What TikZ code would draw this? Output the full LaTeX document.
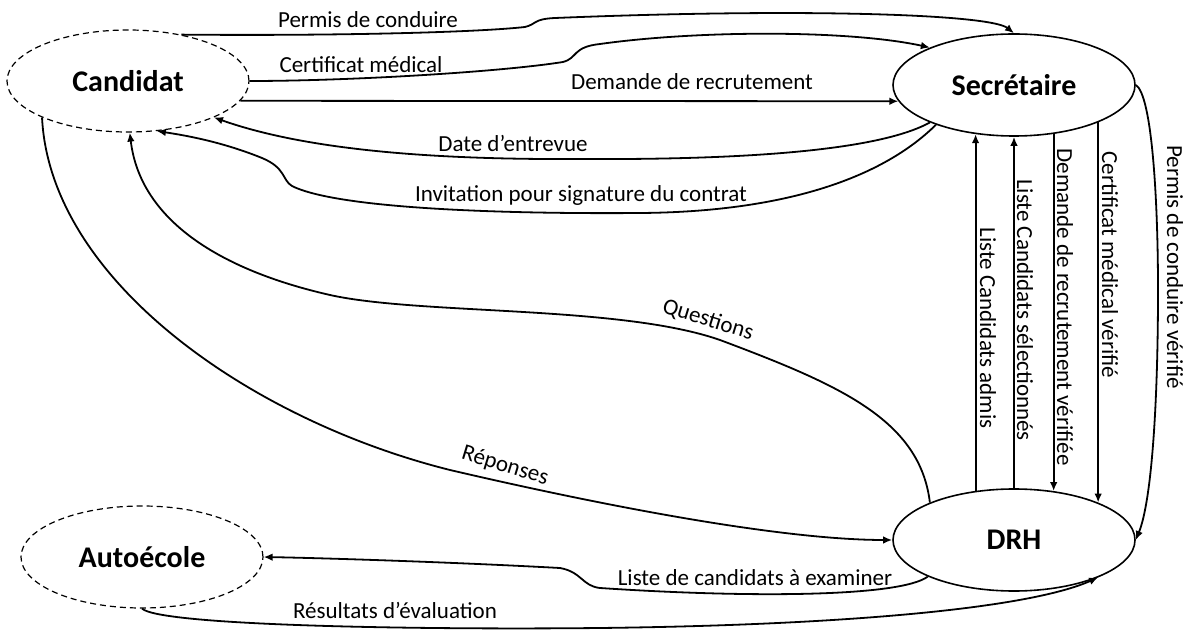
\documentclass[tikz,border=0pt]{standalone}
\usepackage{fontspec}
\setmainfont{Carlito}
\usetikzlibrary{shapes.geometric,arrows.meta}

\begin{document}
\begin{tikzpicture}[x=0.5pt,y=-0.5pt,
  entity/.style={ellipse,draw,dash pattern=on 3pt off 2pt,line width=0.6pt,
    minimum width=121pt,minimum height=51pt,inner sep=0pt,
    font=\fontsize{15}{18}\selectfont\bfseries},
  process/.style={entity,solid,line width=0.8pt},
  flow/.style={line width=0.9pt,-{Latex[length=4.5pt,width=3.8pt]}},
  flowlabel/.style={font=\fontsize{11.5}{14}\selectfont,inner sep=1pt}]
\useasboundingbox (0,0) rectangle (1193,630);

\node[entity] (cand) at (128,81) {Candidat};
\node[entity] (auto) at (142,557) {Autoécole};
\node[process] (sec) at (1014,85) {Secrétaire};
\node[process] (drh) at (1014,540) {DRH};

% Candidat -> Secretaire
\draw[flow] (cand.41) .. controls (350,36) and (480,32) .. (525,27)
  .. controls (537,24) and (533,19) .. (555,18)
  .. controls (800,8) and (990,14) .. (sec.90);
\node[flowlabel] (lpermis) at (368,20) {Permis de conduire};
\draw[flow] (cand.east) .. controls (350,81) and (500,72) .. (563,62)
  .. controls (578,58) and (572,47) .. (600,44)
  .. controls (700,30) and (850,30) .. (sec.156);
\node[flowlabel] (lcertif) at (361,65) {Certificat médical};
\draw[flow] (cand.-10) -- (sec.188);
\node[flowlabel] (ldemande) at (692,82) {Demande de recrutement};

% Secretaire -> Candidat
\draw[flow] (sec.204) .. controls (880,150) and (750,160) .. (580,159)
  .. controls (420,160) and (300,148) .. (cand.-23);
\node[flowlabel] (ldate) at (513,143) {Date d’entrevue};
\draw[flow] (sec.207) .. controls (880,180) and (780,212) .. (640,213)
  .. controls (520,214) and (340,210) .. (292,186)
  .. controls (282,180) and (286,168) .. (262,158)
  .. controls (225,143) and (190,136) .. (cand.-60);
\node[flowlabel] (linvit) at (581,195) {Invitation pour signature du contrat};

% DRH <-> Candidat
\draw[flow] (drh.156) .. controls (920,420) and (840,385) .. (720,340)
  .. controls (620,305) and (420,315) .. (330,295)
  .. controls (220,270) and (140,220) .. (cand.-88);
\node[flowlabel,rotate=-17] (lquest) at (708,320) {Questions};
\draw[flow] (cand.203) .. controls (50,280) and (250,420) .. (450,470)
  .. controls (600,505) and (780,540) .. (drh.west);
\node[flowlabel,rotate=-17] (lrep) at (505,466) {Réponses};

% DRH <-> Secretaire
\draw[flow] (drh.128) -- (sec.232);
\node[flowlabel,rotate=-90] (ladmis) at (988,328) {Liste Candidats admis};
\draw[flow] (drh.north) -- (sec.south);
\node[flowlabel,rotate=-90] (lselect) at (1025,310) {Liste Candidats sélectionnés};
\draw[flow] (sec.309) -- (drh.51);
\node[flowlabel,rotate=-90] (ldemverif) at (1065,307) {Demande de recrutement vérifiée};
\draw[flow] (sec.336) -- (drh.24);
\node[flowlabel,rotate=-90] (lcertverif) at (1110,265) {Certificat médical vérifié};
\draw[flow] (sec.east) .. controls (1152,95) and (1158,200) .. (1158,290)
  .. controls (1158,400) and (1152,500) .. (drh.east);
\node[flowlabel,rotate=-90] (lpermverif) at (1175,267) {Permis de conduire vérifié};

% DRH <-> Autoecole
\draw[flow] (drh.203) .. controls (900,597) and (750,598) .. (600,588)
  .. controls (582,586) and (582,572) .. (560,568)
  .. controls (450,562) and (320,558) .. (auto.east);
\node[flowlabel] (lliste) at (755,578) {Liste de candidats à examiner};
\draw[flow] (auto.south) .. controls (160,625) and (400,630) .. (600,628)
  .. controls (850,625) and (1030,608) .. (drh.-24);
\node[flowlabel] (lresult) at (395,610) {Résultats d’évaluation};
\end{tikzpicture}
\end{document}
